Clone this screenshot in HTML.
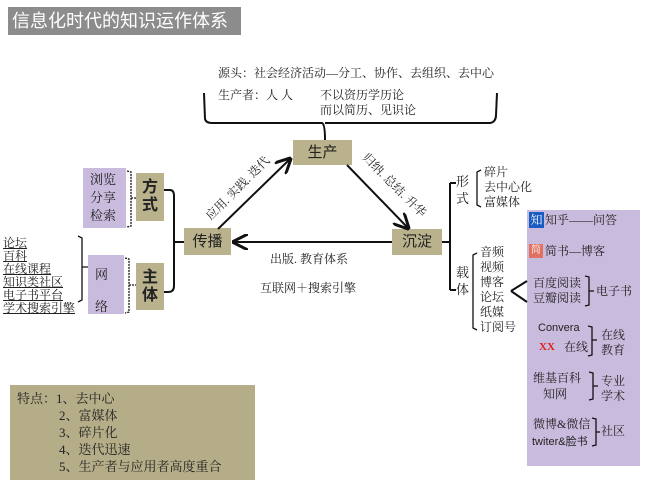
<!DOCTYPE html>
<html><head><meta charset="utf-8"><style>
body{margin:0;width:650px;height:485px;background:#fff;position:relative;overflow:hidden;font-family:"Liberation Serif","Noto Serif CJK SC","Noto Sans CJK SC",serif;color:#222}
.a{position:absolute;white-space:nowrap}
.box{position:absolute;background:#bab28c;display:flex;align-items:center;justify-content:center;font-size:15px;font-family:"Liberation Sans","Noto Sans CJK SC",sans-serif;color:#222;text-align:center;line-height:18px}
.pur{position:absolute;background:#c9bbdd}
.s{font-size:12px;line-height:15px}
</style></head><body>
<div class="a" style="left:8px;top:7px;width:229px;height:28px;background:#8c8c8c;color:#fff;font-family:'Liberation Sans','Noto Sans CJK SC',sans-serif;font-size:18px;line-height:28px;padding-left:4px">信息化时代的知识运作体系</div>

<div class="pur" style="left:527px;top:210px;width:113px;height:256px"></div>
<div class="a" style="left:10px;top:385px;width:245px;height:95px;background:#b5ad88"></div>

<svg width="650" height="485" style="position:absolute;left:0;top:0;z-index:5">
<defs><marker id="ar" markerWidth="8" markerHeight="8" refX="7" refY="4" orient="auto"><path d="M0,0 L8,4 L0,8" fill="none" stroke="#111" stroke-width="1.5"/></marker></defs>
<g fill="none" stroke="#111" stroke-width="2">
<path d="M204,93 L205,119 Q206,123 212,123 L322,123 Q325,124 325,140"/>
<path d="M325,123 L490,123 Q496,122 496,115 L497,93"/>
<line x1="218" y1="229" x2="290" y2="159" marker-end="url(#ar)"/>
<line x1="347" y1="165" x2="408" y2="228" marker-end="url(#ar)"/>
<line x1="392" y1="242" x2="234" y2="242" marker-end="url(#ar)"/>
<path d="M164,190 L170,190 Q174,190 174,196 L174,286 Q174,292 168,292 L164,292"/>
<line x1="174" y1="242" x2="184" y2="242"/>
<path d="M442,242 L450,242 M450,183 L450,290 M450,183 L456,183 M450,290 L456,290"/>
<path d="M511,291 L527,281 M511,291 L527,302"/>
</g>
<g fill="none" stroke="#111" stroke-width="1.3">
<path d="M78,236 L82,238 L82,300 L78,302 M82,267 L88,267"/>
<path d="M127,171 L131,172 L131,226 L127,227 M131,198 L136,198" stroke-dasharray="2,1"/>
<path d="M125,258 L129,259 L129,312 L125,313 M129,285 L136,285" stroke-dasharray="2,1"/>
<path d="M481,170 L477,172 L477,205 L481,207"/>
<path d="M477,253 L473,255 L473,328 L477,330"/>
<path d="M585,276 L589,277 L589,305 L585,306 M589,291 L594,291"/>
<path d="M588,326 L592,327 L592,355 L588,356 M592,340 L597,340"/>
<path d="M589,372 L593,373 L593,399 L589,400 M593,386 L598,386"/>
<path d="M592,418 L596,419 L596,445 L592,446 M596,432 L600,432"/>
</g>
</svg>

<div class="a s" style="left:218px;top:66px">源头：社会经济活动—分工、协作、去组织、去中心</div>
<div class="a s" style="left:218px;top:88px">生产者：人 人</div>
<div class="a s" style="left:320px;top:88px">不以资历学历论</div>
<div class="a s" style="left:320px;top:103px">而以简历、见识论</div>

<div class="box" style="left:293px;top:140px;width:59px;height:25px">生产</div>
<div class="box" style="left:184px;top:228px;width:47px;height:27px">传播</div>
<div class="box" style="left:392px;top:229px;width:50px;height:26px">沉淀</div>
<div class="box" style="left:136px;top:173px;width:28px;height:48px;font-weight:bold;font-size:16px">方<br>式</div>
<div class="box" style="left:136px;top:263px;width:28px;height:47px;font-weight:bold;font-size:16px">主<br>体</div>
<div class="pur" style="left:83px;top:168px;width:43px;height:60px"></div>
<div class="a" style="left:90px;top:171px;font-size:13px;line-height:18px">浏览<br>分享<br>检索</div>
<div class="pur" style="left:88px;top:255px;width:36px;height:59px"></div>
<div class="a" style="left:95px;top:259px;font-size:13px;line-height:32px">网<br>络</div>

<div class="a" style="left:3px;top:237px;font-size:12px;line-height:13px;text-decoration:underline">论坛<br>百科<br>在线课程<br>知识类社区<br>电子书平台<br>学术搜索引擎</div>

<div class="a s" style="left:196px;top:181px;transform:rotate(-45deg);transform-origin:center">应用. 实践. 迭代</div>
<div class="a s" style="left:352px;top:178px;transform:rotate(45deg);transform-origin:center">归纳. 总结. 升华</div>
<div class="a s" style="left:270px;top:252px">出版. 教育体系</div>
<div class="a s" style="left:260px;top:281px">互联网＋搜索引擎</div>

<div class="a" style="left:456px;top:173px;font-size:13px;line-height:17px">形<br>式</div>
<div class="a s" style="left:484px;top:165px">碎片<br>去中心化<br>富媒体</div>
<div class="a" style="left:456px;top:264px;font-size:13px;line-height:17px">载<br>体</div>
<div class="a s" style="left:480px;top:245px">音频<br>视频<br>博客<br>论坛<br>纸媒<br>订阅号</div>

<div class="a" style="left:529px;top:212px;width:15px;height:16px;background:#1a5bc4;color:#fff;font-size:12px;line-height:16px;text-align:center">知</div>
<div class="a s" style="left:545px;top:213px">知乎——问答</div>
<div class="a" style="left:529px;top:244px;width:14px;height:14px;background:#e07060;color:#fff;font-size:10px;line-height:14px;text-align:center">简</div>
<div class="a s" style="left:545px;top:244px">简书—博客</div>
<div class="a s" style="left:533px;top:276px">百度阅读<br>豆瓣阅读</div>
<div class="a s" style="left:596px;top:284px">电子书</div>
<div class="a" style="left:538px;top:322px;font-family:'Liberation Sans',sans-serif;font-size:11px">Convera</div>
<div class="a" style="left:539px;top:341px;font-size:11px;font-weight:bold;color:#e0201a">XX</div>
<div class="a s" style="left:564px;top:340px">在线</div>
<div class="a s" style="left:601px;top:328px">在线<br>教育</div>
<div class="a s" style="left:533px;top:371px">维基百科</div>
<div class="a s" style="left:543px;top:387px">知网</div>
<div class="a s" style="left:601px;top:374px">专业<br>学术</div>
<div class="a s" style="left:533px;top:417px">微博&amp;微信</div>
<div class="a" style="left:532px;top:433px;font-family:'Liberation Sans','Noto Sans CJK SC',sans-serif;font-size:11px">twiter&amp;脸书</div>
<div class="a s" style="left:601px;top:424px">社区</div>

<div class="a" style="left:17px;top:390px;font-size:13px;line-height:17px">特点：1、去中心</div>
<div class="a" style="left:59px;top:407px;font-size:13px;line-height:17px">2、富媒体<br>3、碎片化<br>4、迭代迅速<br>5、生产者与应用者高度重合</div>
</body></html>
